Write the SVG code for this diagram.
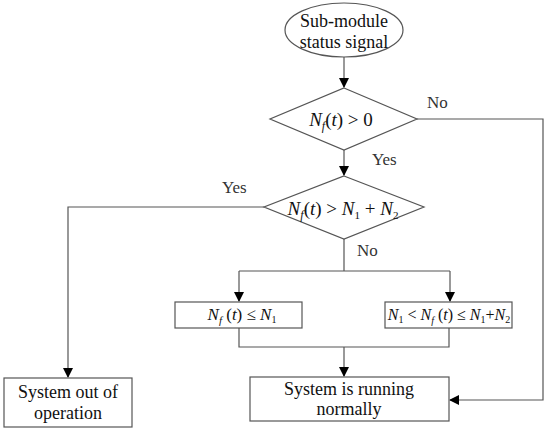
<svg xmlns="http://www.w3.org/2000/svg" width="550" height="432" viewBox="0 0 550 432">
<defs>
<marker id="ah" markerWidth="10" markerHeight="10" refX="9" refY="5" orient="auto" markerUnits="userSpaceOnUse">
<path d="M0,0 L10,5 L0,10 z" fill="#000"/>
</marker>
<style>
.shape{fill:#fff;stroke:#555;stroke-width:1.2}
.line{fill:none;stroke:#555;stroke-width:1.2}
.t{font-size:18px;fill:#111;text-anchor:middle}
.m{fill:#111;text-anchor:middle}
.lbl{font-size:17px;fill:#333}
</style>
</defs>
<rect width="550" height="432" fill="#fff"/>
<g id="connectors">
<path class="line" d="M344,57 V87" marker-end="url(#ah)"/>
<path class="line" d="M344,150 V175" marker-end="url(#ah)"/>
<path class="line" d="M417,119 H543 V400 H450" marker-end="url(#ah)"/>
<path class="line" d="M264,207 H68 V377" marker-end="url(#ah)"/>
<path class="line" d="M344,239 V271 M239,271 H450"/>
<path class="line" d="M239,271 V301" marker-end="url(#ah)"/>
<path class="line" d="M450,271 V301" marker-end="url(#ah)"/>
<path class="line" d="M239,328 V347 H449 V328"/>
<path class="line" d="M344,347 V376" marker-end="url(#ah)"/>
<text class="lbl" font-family="Liberation Serif" x="427" y="108">No</text>
<text class="lbl" font-family="Liberation Serif" x="372" y="165">Yes</text>
<text class="lbl" font-family="Liberation Serif" x="222" y="193">Yes</text>
<text class="lbl" font-family="Liberation Serif" x="357" y="256">No</text>
</g>
<g id="start">
<ellipse class="shape" cx="344" cy="30" rx="59" ry="27"/>
<text class="t" font-family="Liberation Serif" x="344" y="27">Sub-module</text>
<text class="t" font-family="Liberation Serif" x="344" y="48">status signal</text>
</g>
<g id="decision1">
<polygon class="shape" points="344,88 417,119 344,150 270,119"/>
<text class="m" font-family="Liberation Serif" x="341" y="126" font-size="19"><tspan font-style="italic">N</tspan><tspan font-style="italic" font-size="12" dy="4">f</tspan><tspan dy="-4">(</tspan><tspan font-style="italic">t</tspan><tspan>) &gt; 0</tspan></text>
</g>
<g id="decision2">
<polygon class="shape" points="344,176 424,207 344,239 264,207"/>
<text class="m" font-family="Liberation Serif" x="343" y="215" font-size="19"><tspan font-style="italic">N</tspan><tspan font-style="italic" font-size="12" dy="4">f</tspan><tspan dy="-4">(</tspan><tspan font-style="italic">t</tspan><tspan>) &gt; </tspan><tspan font-style="italic">N</tspan><tspan font-size="11" dy="4">1</tspan><tspan dy="-4"> + </tspan><tspan font-style="italic">N</tspan><tspan font-size="11" dy="4">2</tspan></text>
</g>
<g id="box1">
<rect class="shape" x="175" y="302" width="127" height="26"/>
<text class="m" font-family="Liberation Serif" x="242" y="320" font-size="17"><tspan font-style="italic">N</tspan><tspan font-style="italic" font-size="11" dy="4">f</tspan><tspan dy="-4"> (</tspan><tspan font-style="italic">t</tspan><tspan>) ≤ </tspan><tspan font-style="italic">N</tspan><tspan font-size="10" dy="3">1</tspan></text>
</g>
<g id="box2">
<rect class="shape" x="385" y="302" width="127" height="26"/>
<text class="m" font-family="Liberation Serif" x="449" y="320" font-size="16"><tspan font-style="italic">N</tspan><tspan font-size="10" dy="3">1</tspan><tspan dy="-3"> &lt; </tspan><tspan font-style="italic">N</tspan><tspan font-style="italic" font-size="10" dy="4">f</tspan><tspan dy="-4"> (</tspan><tspan font-style="italic">t</tspan><tspan>) ≤ </tspan><tspan font-style="italic">N</tspan><tspan font-size="10" dy="3">1</tspan><tspan dy="-3">+</tspan><tspan font-style="italic">N</tspan><tspan font-size="10" dy="3">2</tspan></text>
</g>
<g id="out">
<rect class="shape" x="4" y="378" width="128" height="49"/>
<text class="t" font-family="Liberation Serif" x="68" y="398">System out of</text>
<text class="t" font-family="Liberation Serif" x="68" y="419">operation</text>
</g>
<g id="normal">
<rect class="shape" x="250" y="377" width="199" height="44"/>
<text class="t" font-family="Liberation Serif" x="349" y="395">System is running</text>
<text class="t" font-family="Liberation Serif" x="349" y="415">normally</text>
</g>
</svg>
